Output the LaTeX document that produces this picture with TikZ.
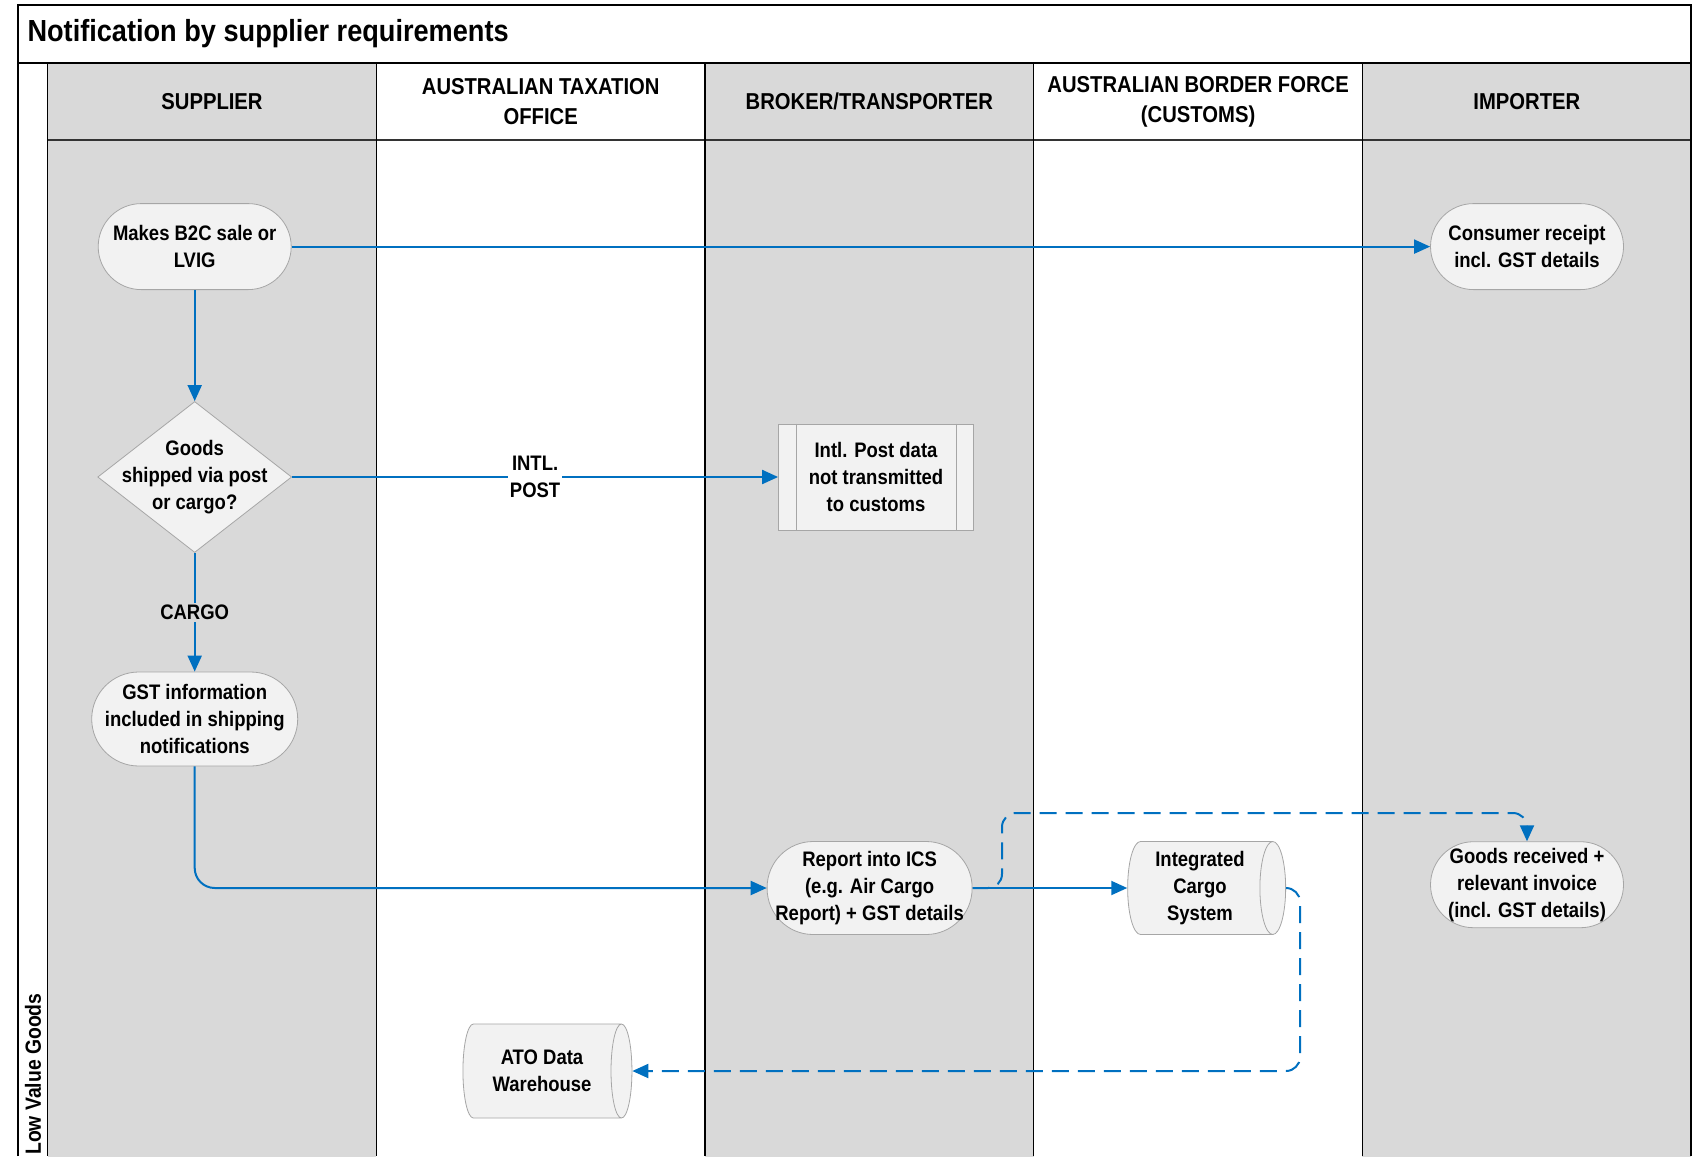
\documentclass[tikz,border=0pt]{standalone}
\usepackage{fontspec}
\setmainfont{Liberation Sans}[FakeStretch=0.88]
\newfontfamily\widesans{Liberation Sans}[FakeStretch=0.89]
\usetikzlibrary{shapes.geometric,arrows.meta}
\definecolor{lanegray}{HTML}{D9D9D9}
\definecolor{boxfill}{HTML}{F2F2F2}
\definecolor{boxline}{HTML}{A6A6A6}
\definecolor{flowblue}{HTML}{0070C0}
\newcommand\boxfont{\bfseries\fontsize{21}{27}\selectfont}
\newcommand\laneheadfont{\bfseries\fontsize{23}{30}\selectfont}
\newcommand\titlebarfont{\widesans\bfseries\fontsize{30.5}{34}\selectfont}

\begin{document}
\begin{tikzpicture}[x=1pt, y=-1pt]
      \tikzset{box/.style={draw=boxline, fill=boxfill, line width=0.8pt, align=center, inner sep=0pt, font=\boxfont},
        term/.style={box, rounded corners=43pt, minimum width=193pt, minimum height=86pt},
        store/.style={box, cylinder, aspect=0.35, minimum width=93pt, minimum height=158pt},
        decide/.style={box, diamond, minimum width=194pt, minimum height=151pt},
        subproc/.style={box, minimum width=195pt, minimum height=106pt},
        lanehead/.style={align=center, font=\laneheadfont},
        cond/.style={align=center, font=\boxfont, text=black, inner sep=2pt},
        flow/.style={flowblue, line width=2pt, -{Triangle[length=16pt,width=14pt]}},
        dashflow/.style={flow, dash pattern=on 17pt off 9pt, rounded corners=14pt}}
      \useasboundingbox (0,0) rectangle (1696,1156);
%% Lanes
      \fill[white] (18,5) rectangle (1691,1156);
      \foreach \i in {0,2,4}
        \fill[lanegray] ({47.6+\i*328.7},63) rectangle ++(328.7,1100);
      \foreach \i/\nm/\txt in {0/sup/SUPPLIER, 1/ato/{AUSTRALIAN TAXATION\\OFFICE}, 2/brk/{BROKER/TRANSPORTER},
          3/abf/{AUSTRALIAN BORDER FORCE\\(CUSTOMS)}, 4/imp/IMPORTER}
        \node[lanehead] (h\nm) at ({212+\i*328.7},101.5) {\txt};
      \draw[line width=1.2pt, black!80] (47.6,140) -- (1691,140);
      \foreach \x in {47.6,376.3,705,1033.7,1362.4}
        \draw[line width=1.5pt] (\x,63) -- (\x,1156);
      \draw[line width=1.5pt] (18,63) -- (1691,63);
      \draw[line width=1.8pt] (18,1156) -- (18,5) -- (1691,5) -- (1691,1156);
      \node[anchor=west, font=\titlebarfont] (title) at (24,34) {Notification by supplier requirements};
      \node[rotate=90, anchor=west, inner sep=0pt, font=\bfseries\fontsize{22}{26}\selectfont] (pool) at (33,1155) {Low Value Goods};
%% Nodes
      \node[term] (sale) at (194.7,246.6) {Makes B2C sale or\\LVIG};
      \node[decide, label={[cond]center:{Goods\\shipped via post\\or cargo?}}] (ship) at (194.7,477) {};
      \node[term, minimum width=206pt, minimum height=94pt, rounded corners=47pt] (gst) at (194.7,719) {GST information\\included in shipping\\notifications};
      \node[subproc] (post) at (876,477) {Intl. Post data\\not transmitted\\to customs};
      \draw[boxline, line width=0.8pt] ([xshift=18pt]post.north west) -- ([xshift=18pt]post.south west)
        ([xshift=-18pt]post.north east) -- ([xshift=-18pt]post.south east);
      \node[term, minimum width=205pt, minimum height=93pt, rounded corners=46pt] (report) at (869.6,888) {Report into ICS\\(e.g. Air Cargo\\Report) + GST details};
      \node[store] (cargo) at (1200,888) {Integrated\\Cargo\\System};
      \node[term] (receipt) at (1527,246.6) {Consumer receipt\\incl. GST details};
      \node[term] (goods) at (1527,884.7) {Goods received +\\relevant invoice\\(incl. GST details)};
      \node[store, aspect=0.5, minimum width=94pt, minimum height=169pt] (warehouse) at (542,1071) {ATO Data\\Warehouse};
%Edges
      \path (sale) edge[flow] (receipt);
      \path (sale) edge[flow] (ship);
      \path (ship) edge[flow] node[cond, fill=white] {INTL.\\POST} (post);
      \path (ship) edge[flow] node[cond, fill=lanegray] {CARGO} (gst);
      \draw[flow, rounded corners=20pt] (gst) |- (report);
      \path (report) edge[flow] (cargo);
      \coordinate (rbend) at (1002,813);
      \draw[dashflow] (report.east) -| (rbend) -| (goods.north);
      \coordinate (cbend) at (1300,1071);
      \draw[dashflow] (cargo.east) -| (cbend) -- (warehouse.east);
\end{tikzpicture}
\end{document}
